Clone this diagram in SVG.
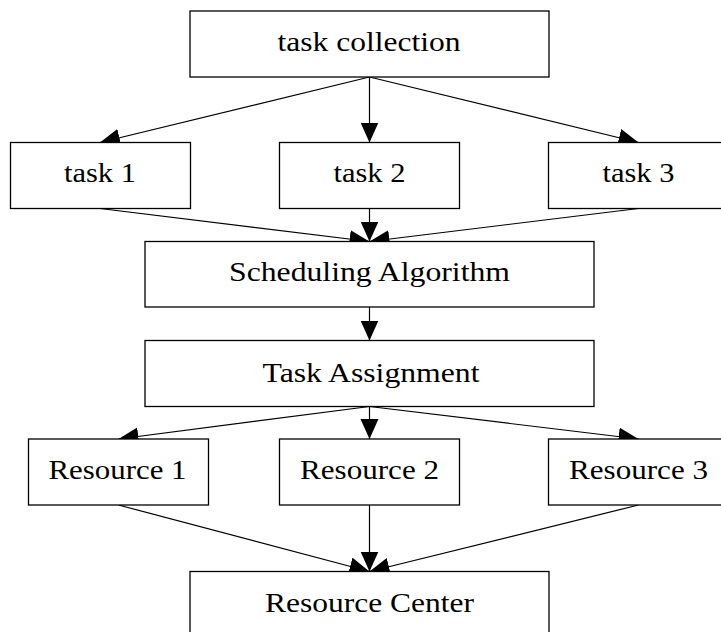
<svg xmlns="http://www.w3.org/2000/svg" width="721" height="632" viewBox="0 0 721 632">
<style>
.box{fill:#fff;stroke:#000;stroke-width:1.3}
.lbl{font-family:"Times New Roman","Liberation Serif",Times,serif;font-size:28px;fill:#000;text-anchor:middle}
.edge{stroke:#000;stroke-width:1.2;fill:none;marker-end:url(#ah)}
</style>
<defs>
<marker id="ah" markerUnits="userSpaceOnUse" markerWidth="21" markerHeight="19" refX="20" refY="9" orient="auto">
<path d="M0,0 L20,9 L0,18 z" fill="#000"/>
</marker>
</defs>
<rect width="721" height="632" fill="#fff"/>
<g id="connectors">
<line class="edge" x1="369.5" y1="77" x2="100" y2="142.5"/>
<line class="edge" x1="369.5" y1="77" x2="369.5" y2="142.5"/>
<line class="edge" x1="369.5" y1="77" x2="638.5" y2="142.5"/>
<line class="edge" x1="100" y1="208.5" x2="369.5" y2="241.5"/>
<line class="edge" x1="369.5" y1="208.5" x2="369.5" y2="241.5"/>
<line class="edge" x1="638.5" y1="208.5" x2="369.5" y2="241.5"/>
<line class="edge" x1="369.5" y1="307" x2="369.5" y2="340.5"/>
<line class="edge" x1="369.5" y1="406.5" x2="118.5" y2="439"/>
<line class="edge" x1="369.5" y1="406.5" x2="369.5" y2="439"/>
<line class="edge" x1="369.5" y1="406.5" x2="638.5" y2="439"/>
<line class="edge" x1="118.5" y1="505" x2="369.5" y2="571.5"/>
<line class="edge" x1="369.5" y1="505" x2="369.5" y2="571.5"/>
<line class="edge" x1="638.5" y1="505" x2="369.5" y2="571.5"/>
</g>
<g id="task-collection">
<rect class="box" x="190" y="11" width="359" height="66"/>
<text class="lbl" x="369" y="51" textLength="183" lengthAdjust="spacingAndGlyphs">task collection</text>
</g>
<g id="task1">
<rect class="box" x="10.5" y="142.5" width="180" height="66"/>
<text class="lbl" x="100" y="182" textLength="72" lengthAdjust="spacingAndGlyphs">task 1</text>
</g>
<g id="task2">
<rect class="box" x="279.5" y="142.5" width="180" height="66"/>
<text class="lbl" x="369.5" y="182" textLength="72" lengthAdjust="spacingAndGlyphs">task 2</text>
</g>
<g id="task3">
<rect class="box" x="548.5" y="142.5" width="180" height="66"/>
<text class="lbl" x="638.5" y="182" textLength="72" lengthAdjust="spacingAndGlyphs">task 3</text>
</g>
<g id="scheduling">
<rect class="box" x="145" y="241.5" width="449" height="65.5"/>
<text class="lbl" x="369.5" y="281" textLength="281" lengthAdjust="spacingAndGlyphs">Scheduling Algorithm</text>
</g>
<g id="assignment">
<rect class="box" x="145" y="340.5" width="449" height="66"/>
<text class="lbl" x="371" y="382" textLength="217" lengthAdjust="spacingAndGlyphs">Task Assignment</text>
</g>
<g id="resource1">
<rect class="box" x="28.5" y="439" width="180" height="66"/>
<text class="lbl" x="117.5" y="479" textLength="138" lengthAdjust="spacingAndGlyphs">Resource 1</text>
</g>
<g id="resource2">
<rect class="box" x="279.5" y="439" width="180" height="66"/>
<text class="lbl" x="369.5" y="479" textLength="139" lengthAdjust="spacingAndGlyphs">Resource 2</text>
</g>
<g id="resource3">
<rect class="box" x="548.5" y="439" width="180" height="66"/>
<text class="lbl" x="638.5" y="479" textLength="139" lengthAdjust="spacingAndGlyphs">Resource 3</text>
</g>
<g id="resource-center">
<rect class="box" x="190" y="571.5" width="359" height="70"/>
<text class="lbl" x="369.5" y="612" textLength="209" lengthAdjust="spacingAndGlyphs">Resource Center</text>
</g>
</svg>
